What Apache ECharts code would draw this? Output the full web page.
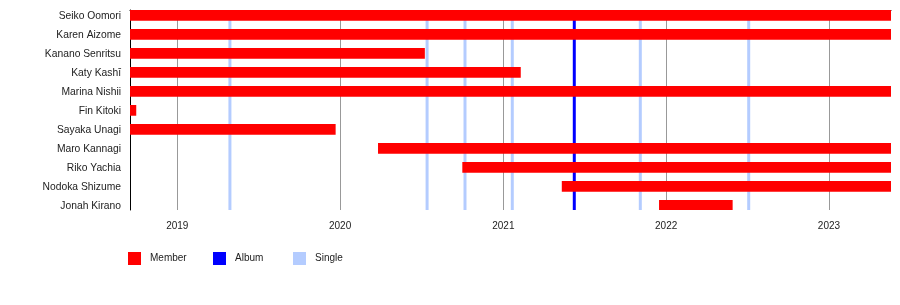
<!DOCTYPE html>
<html>
<head>
<meta charset="utf-8">
<script src="https://cdn.jsdelivr.net/npm/echarts@6/dist/echarts.min.js"></script>
<style>html,body{margin:0;padding:0;background:#fff;}#c{width:900px;height:305px;}</style>
</head>
<body>
<div id="c"></div>
<script>
var members = ['Seiko Oomori','Karen Aizome','Kanano Senritsu','Katy Kashī','Marina Nishii','Fin Kitoki','Sayaka Unagi','Maro Kannagi','Riko Yachia','Nodoka Shizume','Jonah Kirano'];
var memberStart = ['2018-09-17','2018-09-17','2018-09-17','2018-09-17','2018-09-17','2018-09-17','2018-09-17','2020-03-26','2020-10-01','2021-05-12','2021-12-16'];
var memberEnd = ['2023-05-20','2023-05-20','2020-07-09','2021-02-09','2023-05-20','2018-10-01','2019-12-22','2023-05-20','2023-05-20','2023-05-20','2022-05-30'];
var albumDates = ['2021-06-09'];
var singleDates = ['2019-04-29','2020-07-14','2020-10-07','2021-01-21','2021-11-04','2022-07-05'];
var timelineStart = '2018-09-17';
var timelineEnd = '2023-05-20';

var FONT = '"Liberation Sans", Arial, sans-serif';
var chart = echarts.init(document.getElementById('c'), null, {renderer: 'canvas'});

var memberData = members.map(function (n, i) {
  return [i, +new Date(memberStart[i]), +new Date(memberEnd[i])];
});

function renderBar(params, api) {
  var idx = api.value(0);
  var p0 = api.coord([api.value(1), idx]);
  var p1 = api.coord([api.value(2), idx]);
  var h = api.size([0, 1])[1] * 0.565;
  var rect = echarts.graphic.clipRectByRect(
    {x: p0[0], y: p0[1], width: p1[0] - p0[0], height: h},
    {x: params.coordSys.x, y: params.coordSys.y, width: params.coordSys.width, height: params.coordSys.height}
  );
  return rect && {type: 'rect', shape: rect, style: {fill: api.visual('color')}};
}

function renderLine(params, api) {
  var x = api.coord([api.value(0), 0])[0];
  var cs = params.coordSys;
  return {type: 'line', shape: {x1: x, y1: cs.y, x2: x, y2: cs.y + cs.height},
    style: {stroke: api.visual('color'), lineWidth: 3}};
}

function legendCfg(name, left) {
  return {data: [name], left: left, top: 252, itemWidth: 13, itemHeight: 13, itemTextGap: 9,
    icon: 'rect', selectedMode: false, padding: 0,
    textStyle: {fontFamily: FONT, fontSize: 10, color: '#222', padding: [6, 0, 0, 4]}};
}

chart.setOption({
  animation: false,
  backgroundColor: '#fff',
  grid: {left: 130, right: 9, top: 10, height: 200, containLabel: false},
  legend: [legendCfg('Member', 128), legendCfg('Album', 213), legendCfg('Single', 293)],
  xAxis: {
    type: 'time',
    min: timelineStart,
    max: timelineEnd,
    splitNumber: 4,
    minInterval: 365 * 24 * 3600 * 1000,
    axisLine: {lineStyle: {color: '#000', width: 1}},
    axisTick: {show: true, length: 7, lineStyle: {color: '#000'}},
    splitLine: {show: true, showMinLine: false, showMaxLine: false, lineStyle: {color: '#999', width: 1}},
    axisLabel: {fontFamily: FONT, fontSize: 10, color: '#222', margin: 11,
      showMinLabel: false, showMaxLabel: false,
      formatter: function (v) { return String(new Date(v).getFullYear()); }}
  },
  yAxis: {
    type: 'value',
    inverse: true,
    min: 0,
    max: 200 / 19,
    interval: 1,
    axisLine: {show: true, lineStyle: {color: '#000', width: 1}},
    axisTick: {show: false},
    splitLine: {show: false},
    axisLabel: {fontFamily: FONT, fontSize: 10.3, color: '#222', margin: 9,
      verticalAlign: 'top', lineHeight: 12,
      showMaxLabel: false,
      formatter: function (v) {
        return (Math.abs(v - Math.round(v)) < 1e-6 && members[Math.round(v)]) ? members[Math.round(v)] : '';
      }}
  },
  series: [
    {name: 'Single', type: 'custom', renderItem: renderLine, z: 2,
      itemStyle: {color: '#b4ccff'}, encode: {x: 0},
      data: singleDates.map(function (d) { return [+new Date(d)]; })},
    {name: 'Album', type: 'custom', renderItem: renderLine, z: 2,
      itemStyle: {color: '#0000ff'}, encode: {x: 0},
      data: albumDates.map(function (d) { return [+new Date(d)]; })},
    {name: 'Member', type: 'custom', renderItem: renderBar, z: 3,
      itemStyle: {color: '#ff0000'}, encode: {x: [1, 2], y: 0},
      data: memberData}
  ]
});
</script>
</body>
</html>
